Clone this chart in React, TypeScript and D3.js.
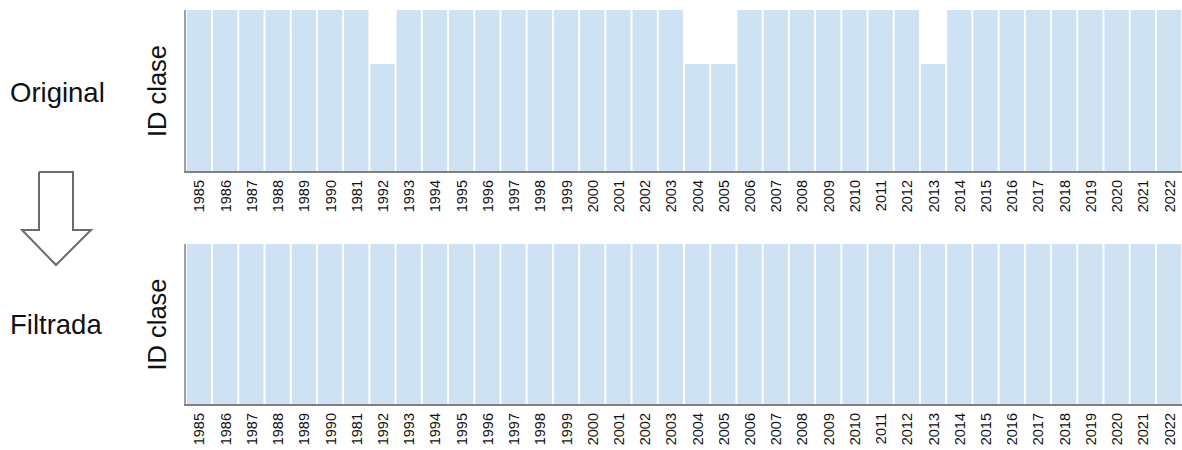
import React from "react";
import * as d3 from "d3";

const years: string[] = [
  "1985","1986","1987","1988","1989","1990","1981","1992","1993","1994",
  "1995","1996","1997","1998","1999","2000","2001","2002","2003","2004",
  "2005","2006","2007","2008","2009","2010","2011","2012","2013","2014",
  "2015","2016","2017","2018","2019","2020","2021","2022",
];
const originalValues: number[] = [
  3,3,3,3,3,3,3,2,3,3,
  3,3,3,3,3,3,3,3,3,2,
  2,3,3,3,3,3,3,3,2,3,
  3,3,3,3,3,3,3,3,
];
const filteredValues: number[] = years.map(() => 3);
const panelLabels: string[] = ["Original", "Filtrada"];
const yLabel = "ID clase";

const W = 1182;
const H = 450;
const x0 = 186;
const x1 = 1182;
const font = "Liberation Sans, Arial, sans-serif";

function Panel({ values, top, bottom, label, labelY }: { values: number[]; top: number; bottom: number; label: string; labelY: number }) {
  const x = d3.scaleBand<string>().domain(years.map((d, i) => i + "")).range([x0, x1]).paddingInner(0.07).paddingOuter(0.03);
  const y = d3.scaleLinear().domain([0, 3]).range([bottom, top]);
  const mid = (top + bottom) / 2;
  return (
    <g>
      {values.map((v, i) => (
        <rect key={i} x={x(i + "")} y={y(v)} width={x.bandwidth()} height={bottom - y(v)} fill="#cfe2f3" />
      ))}
      <line x1={x0 - 1} x2={x0 - 1} y1={top} y2={bottom} stroke="#808080" strokeWidth={1.5} />
      <line x1={x0 - 2} x2={x1} y1={bottom} y2={bottom} stroke="#808080" strokeWidth={2} />
      {years.map((yr, i) => (
        <text
          key={yr + i}
          transform={`translate(${(x(i + "") as number) + x.bandwidth() / 2 + 5.5},${bottom + 8}) rotate(-90)`}
          textAnchor="end"
          fontFamily={font}
          fontSize={14.5}
          fill="#111"
        >
          {yr}
        </text>
      ))}
      <text
        transform={`translate(${166},${mid}) rotate(-90)`}
        textAnchor="middle"
        fontFamily={font}
        fontSize={25.5}
        fill="#111"
      >
        {yLabel}
      </text>
      <text x={10} y={labelY} fontFamily={font} fontSize={27.5} fill="#111">
        {label}
      </text>
    </g>
  );
}

export default function App() {
  const arrow = d3.line()([
    [39, 172], [73, 172], [73, 230], [91, 230], [56, 265], [22, 230], [39, 230], [39, 172],
  ] as [number, number][]);
  return (
    <svg width={W} height={H} style={{ position: "absolute", left: 0, top: 0, background: "#fff" }}>
      <Panel values={originalValues} top={10} bottom={172} label={panelLabels[0]} labelY={102} />
      <Panel values={filteredValues} top={244} bottom={405} label={panelLabels[1]} labelY={334} />
      <path d={arrow || ""} fill="none" stroke="#6b6b6b" strokeWidth={2} strokeLinejoin="miter" />
    </svg>
  );
}
